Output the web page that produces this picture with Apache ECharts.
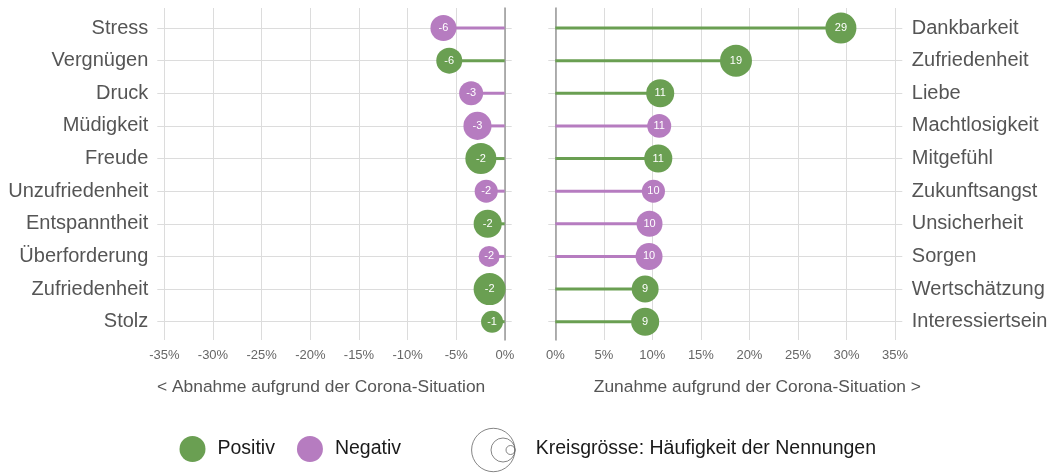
<!DOCTYPE html>
<html>
<head>
<meta charset="utf-8">
<script src="https://cdn.jsdelivr.net/npm/echarts@6/dist/echarts.min.js"></script>
<style>
  html, body { margin: 0; padding: 0; background: #fff; }
  #chart { width: 1048px; height: 473px; }
</style>
</head>
<body>
<div id="chart"></div>
<script>
  // Abnahme (links)
  const leftCats = ['Stress', 'Vergnügen', 'Druck', 'Müdigkeit', 'Freude', 'Unzufriedenheit',
    'Entspanntheit', 'Überforderung', 'Zufriedenheit', 'Stolz'];
  const leftValues = [-6.3, -5.7, -3.45, -2.8, -2.45, -1.9, -1.75, -1.6, -1.55, -1.3];
  const leftTypes = ['Negativ', 'Positiv', 'Negativ', 'Negativ', 'Positiv', 'Negativ',
    'Positiv', 'Negativ', 'Positiv', 'Positiv'];
  const leftCounts = [66, 66, 56, 77, 94, 52, 77, 43, 100, 47];

  // Zunahme (rechts)
  const rightCats = ['Dankbarkeit', 'Zufriedenheit', 'Liebe', 'Machtlosigkeit', 'Mitgefühl',
    'Zukunftsangst', 'Unsicherheit', 'Sorgen', 'Wertschätzung', 'Interessiertsein'];
  const rightValues = [29.4, 18.6, 10.8, 10.7, 10.6, 10.1, 9.7, 9.65, 9.25, 9.25];
  const rightTypes = ['Positiv', 'Positiv', 'Positiv', 'Negativ', 'Positiv', 'Negativ',
    'Negativ', 'Negativ', 'Positiv', 'Positiv'];
  const rightCounts = [94, 100, 77, 56, 77, 52, 66, 71, 71, 77];

  const colors = { Positiv: '#6a9f52', Negativ: '#b67cc0' };
  const font = '"Liberation Sans", Arial, Helvetica, sans-serif';
  const gridColor = '#dcdcdc';

  const chart = echarts.init(document.getElementById('chart'));

  // Werte nach Typ trennen, fehlende mit '-'
  function pick(values, types, counts, type, withCount) {
    return values.map((v, i) => {
      if (types[i] !== type) return '-';
      return withCount ? [v, i, counts[i]] : v;
    });
  }

  function sideSeries(values, types, counts, axisIdx) {
    const out = [];
    ['Positiv', 'Negativ'].forEach(t => {
      out.push({
        name: t,
        type: 'bar',
        xAxisIndex: axisIdx, yAxisIndex: axisIdx,
        data: pick(values, types, counts, t, false),
        barWidth: 3,
        barGap: '-100%',
        itemStyle: { color: colors[t] },
        silent: true
      });
    });
    ['Positiv', 'Negativ'].forEach(t => {
      out.push({
        name: t,
        type: 'scatter',
        xAxisIndex: axisIdx, yAxisIndex: axisIdx,
        data: pick(values, types, counts, t, true),
        symbolSize: d => 32 * Math.sqrt(d[2] / 100),
        itemStyle: { color: colors[t], opacity: 1 },
        label: {
          show: true,
          position: 'inside',
          color: '#fff',
          fontSize: 11,
          fontFamily: font,
          formatter: p => Math.round(p.value[0])
        },
        z: 3
      });
    });
    return out;
  }

  const bgX = (min, max) => ({
    type: 'value', min: min, max: max, interval: 5,
    axisLine: { show: false, onZero: false },
    axisTick: { show: false },
    axisLabel: { color: '#666', fontSize: 13, fontFamily: font, margin: 9, formatter: v => v + '%' },
    splitLine: { show: true, lineStyle: { color: gridColor, width: 1 } }
  });
  const bgY = pos => ({
    type: 'value', min: 0, max: 1, position: pos,
    axisLine: { show: true, onZero: false, lineStyle: { color: '#999', width: 1.5 } },
    axisTick: { show: false }, axisLabel: { show: false }, splitLine: { show: false }
  });
  const dataY = (cats, pos, margin) => ({
    type: 'category', data: cats, inverse: true, boundaryGap: false, position: pos,
    axisLine: { show: false }, axisTick: { show: false },
    axisLabel: { color: '#555', fontSize: 20, fontFamily: font, margin: margin },
    splitLine: { show: true, lineStyle: { color: gridColor, width: 1 } }
  });

  const option = {
    backgroundColor: '#fff',
    animation: false,
    grid: [
      { left: 164.3, width: 340.7, top: 8, height: 332, outerBoundsMode: 'none' },   // Hintergrund links
      { left: 555.3, width: 339.7, top: 8, height: 332, outerBoundsMode: 'none' },   // Hintergrund rechts
      { left: 157.3, width: 354.4, top: 28, height: 293.7, outerBoundsMode: 'none' },// Daten links
      { left: 548.3, width: 354, top: 28, height: 293.7, outerBoundsMode: 'none' }   // Daten rechts
    ],
    xAxis: [
      Object.assign(bgX(-35, 0), { gridIndex: 0 }),
      Object.assign(bgX(0, 35), { gridIndex: 1 }),
      { type: 'value', gridIndex: 2, min: -35.72, max: 0.72, show: false },
      { type: 'value', gridIndex: 3, min: -0.72, max: 35.72, show: false }
    ],
    yAxis: [
      Object.assign(bgY('right'), { gridIndex: 0 }),
      Object.assign(bgY('left'), { gridIndex: 1 }),
      Object.assign(dataY(leftCats, 'left', 9), { gridIndex: 2 }),
      Object.assign(dataY(rightCats, 'right', 9.5), { gridIndex: 3 })
    ],
    legend: {
      data: ['Positiv', 'Negativ'],
      left: 179.5, top: 436,
      padding: 0,
      icon: 'circle',
      itemWidth: 26, itemHeight: 26,
      itemGap: 22,
      textStyle: { color: '#1a1a1a', fontSize: 19.5, fontFamily: font, padding: [0, 0, 0, 7] },
      selectedMode: false
    },
    graphic: [
      { type: 'text', left: 157, top: 379,
        style: { text: '< Abnahme aufgrund der Corona-Situation', fill: '#555', fontSize: 17.4, fontFamily: font } },
      { type: 'text', right: 1048 - 921, top: 379,
        style: { text: 'Zunahme aufgrund der Corona-Situation >', fill: '#555', fontSize: 17.4, fontFamily: font } },
      { type: 'circle', shape: { cx: 493.3, cy: 450, r: 21.7 }, style: { fill: 'none', stroke: '#666', lineWidth: 0.8 } },
      { type: 'circle', shape: { cx: 503, cy: 450, r: 12 }, style: { fill: 'none', stroke: '#666', lineWidth: 0.8 } },
      { type: 'circle', shape: { cx: 510.5, cy: 450, r: 4.5 }, style: { fill: 'none', stroke: '#666', lineWidth: 0.8 } },
      { type: 'text', left: 535.7, top: 439,
        style: { text: 'Kreisgrösse: Häufigkeit der Nennungen', fill: '#1a1a1a', fontSize: 19.5, fontFamily: font } }
    ],
    series: sideSeries(leftValues, leftTypes, leftCounts, 2)
      .concat(sideSeries(rightValues, rightTypes, rightCounts, 3))
  };

  chart.setOption(option);
</script>
</body>
</html>
